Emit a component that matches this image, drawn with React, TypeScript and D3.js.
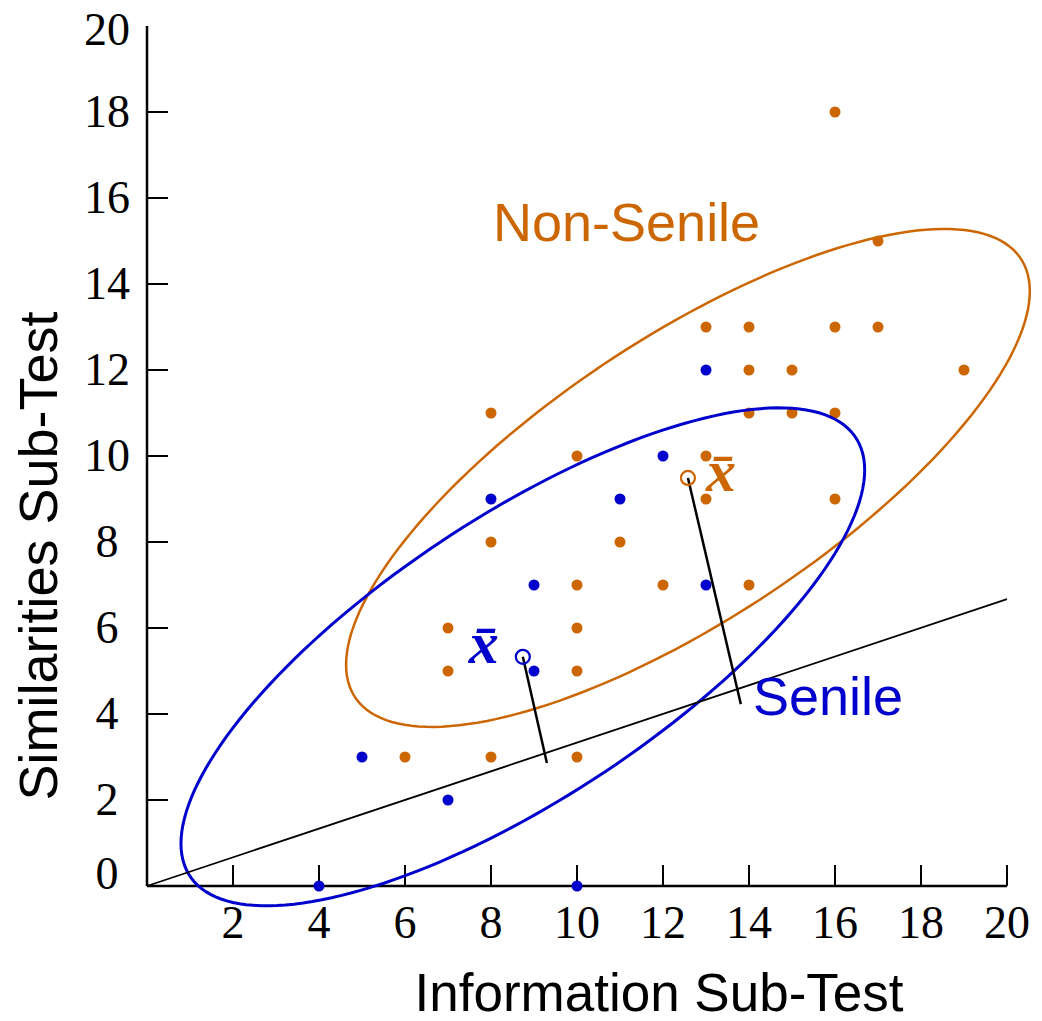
import React from 'react';
import * as d3 from 'd3';

// Senility data: WAIS information vs similarities sub-test scores

const nonSenileX = [16, 17, 13, 14, 16, 17, 14, 15, 19, 14, 15, 16, 8, 10, 13, 13, 16, 8, 11, 10, 12, 14, 7, 10, 7, 10, 6, 8, 10];
const nonSenileY = [18, 15, 13, 13, 13, 13, 12, 12, 12, 11, 11, 11, 11, 10, 10, 9, 9, 8, 8, 7, 7, 7, 6, 6, 5, 5, 3, 3, 3];

const senileX = [13, 12, 8, 11, 9, 13, 9, 5, 7, 4, 10];
const senileY = [12, 10, 9, 9, 7, 7, 5, 3, 2, 0, 0];

// group means
const meanNonSenile = [12.58, 9.49];
const meanSenile = [8.74, 5.33];

// pooled covariance ellipse: half-extent in x, in y, and correlation
const ellipseSx = 7.95;
const ellipseSy = 5.79;
const ellipseRho = 0.75;

// discriminant line and projections of the means onto it
const lineStart = [0, 0];
const lineEnd = [20, 6.67];
const projNonSenile = [13.81, 4.23];
const projSenile = [9.3, 2.86];

const xTicks = [2, 4, 6, 8, 10, 12, 14, 16, 18, 20];
const yTicks = [2, 4, 6, 8, 10, 12, 14, 16, 18];
const yTickLabels = [0, 2, 4, 6, 8, 10, 12, 14, 16, 18, 20];

const ORANGE = '#cc6600';
const BLUE = '#0000cc';

const width = 1042, height = 1021;

const App = () => {
  const x = d3.scaleLinear().domain([0, 20]).range([147, 1007]);
  const y = d3.scaleLinear().domain([0, 20]).range([886, 26]);

  // build an ellipse outline around a centre from the shared covariance shape
  const ellipsePath = (c: number[]) => {
    const angles = d3.range(0, 2 * Math.PI + 0.01, Math.PI / 90);
    const k = Math.sqrt(1 - ellipseRho * ellipseRho);
    const line = d3.line<number>()
      .x(t => x(c[0] + ellipseSx * Math.cos(t)))
      .y(t => y(c[1] + ellipseSy * (ellipseRho * Math.cos(t) + k * Math.sin(t))))
      .curve(d3.curveLinearClosed);
    return line(angles) || '';
  };

  const serif = '"Liberation Serif", "DejaVu Serif", serif';
  const sans = '"Liberation Sans", Arial, sans-serif';

  return (
    <svg width={width} height={height} style={{ position: 'absolute', left: 0, top: 0, background: '#fff' }}>
      {/* axes */}
      <line x1={x(0)} x2={x(0)} y1={y(0)} y2={y(20)} stroke="#000" strokeWidth={2.5} />
      <line x1={x(0)} x2={x(20)} y1={y(0)} y2={y(0)} stroke="#000" strokeWidth={2.5} />
      {xTicks.map(t => <line key={`xt${t}`} x1={x(t)} x2={x(t)} y1={y(0)} y2={y(0) - 21} stroke="#000" strokeWidth={2} />)}
      {yTicks.map(t => <line key={`yt${t}`} x1={x(0)} x2={x(0) + 21} y1={y(t)} y2={y(t)} stroke="#000" strokeWidth={2} />)}

      {/* tick labels */}
      {xTicks.map(t => (
        <text key={`xl${t}`} x={x(t)} y={938} textAnchor="middle" fontFamily={serif} fontSize={46}>{t}</text>
      ))}
      {yTickLabels.map(t => (
        <text key={`yl${t}`} x={107} y={y(t) + 15 - (t === 0 ? 12 : 0) + (t === 20 ? 4 : 0)} textAnchor="middle" fontFamily={serif} fontSize={46}>{t}</text>
      ))}

      {/* axis titles */}
      <text x={659} y={1011} textAnchor="middle" fontFamily={sans} fontSize={53}>Information Sub-Test</text>
      <text transform="translate(57, 556) rotate(-90)" textAnchor="middle" fontFamily={sans} fontSize={54}>Similarities Sub-Test</text>

      {/* points */}
      {nonSenileX.map((v, i) => <circle key={`n${i}`} cx={x(v)} cy={y(nonSenileY[i])} r={5.5} fill={ORANGE} />)}
      {senileX.map((v, i) => <circle key={`s${i}`} cx={x(v)} cy={y(senileY[i])} r={5.5} fill={BLUE} />)}

      {/* ellipses */}
      <path d={ellipsePath(meanNonSenile)} fill="none" stroke={ORANGE} strokeWidth={2.5} />
      <path d={ellipsePath(meanSenile)} fill="none" stroke={BLUE} strokeWidth={3} />

      {/* discriminant line and projections */}
      <line x1={x(lineStart[0])} y1={y(lineStart[1])} x2={x(lineEnd[0])} y2={y(lineEnd[1])} stroke="#000" strokeWidth={1.8} />
      <line x1={x(meanNonSenile[0])} y1={y(meanNonSenile[1])} x2={x(projNonSenile[0])} y2={y(projNonSenile[1])} stroke="#000" strokeWidth={2.5} />
      <line x1={x(meanSenile[0])} y1={y(meanSenile[1])} x2={x(projSenile[0])} y2={y(projSenile[1])} stroke="#000" strokeWidth={2.5} />

      {/* means */}
      <circle cx={x(meanNonSenile[0])} cy={y(meanNonSenile[1])} r={7} fill="none" stroke={ORANGE} strokeWidth={2.2} />
      <circle cx={x(meanSenile[0])} cy={y(meanSenile[1])} r={7} fill="none" stroke={BLUE} strokeWidth={2.2} />
      <text x={x(meanNonSenile[0]) + 18} y={y(meanNonSenile[1]) + 13} fontFamily={serif} fontStyle="italic" fontWeight="bold" fontSize={60} fill={ORANGE}>x̄</text>
      <text x={x(meanSenile[0]) - 54} y={y(meanSenile[1]) + 6} fontFamily={serif} fontStyle="italic" fontWeight="bold" fontSize={60} fill={BLUE}>x̄</text>

      {/* group labels */}
      <text x={493} y={241} fontFamily={sans} fontSize={54} fill={ORANGE}>Non-Senile</text>
      <text x={753} y={715} fontFamily={sans} fontSize={54} fill={BLUE}>Senile</text>
    </svg>
  );
};

export default App;
